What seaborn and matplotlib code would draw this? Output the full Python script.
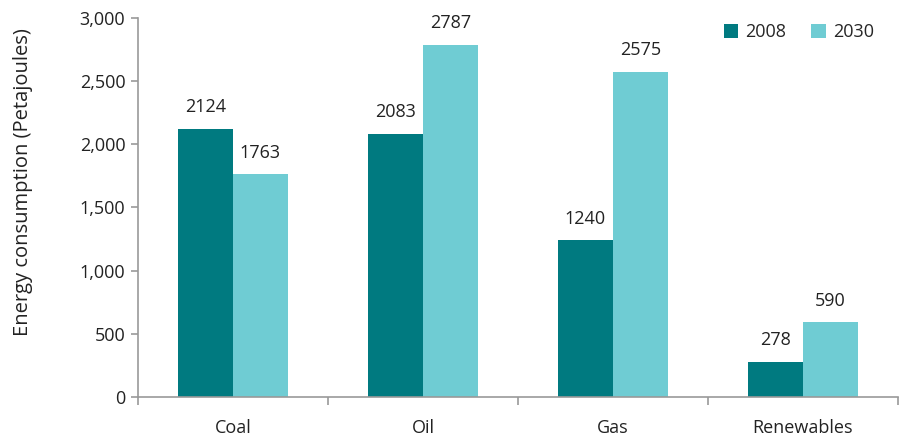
import matplotlib
matplotlib.use("Agg")
import matplotlib.pyplot as plt
import seaborn as sns
import pandas as pd
from matplotlib.ticker import FuncFormatter, FixedLocator

categories = ["Coal", "Oil", "Gas", "Renewables"]
years = ["2008", "2030"]
values_2008 = [2124, 2083, 1240, 278]
values_2030 = [1763, 2787, 2575, 590]

df = pd.DataFrame({
    "Fuel": categories * 2,
    "Year": [years[0]] * 4 + [years[1]] * 4,
    "Value": values_2008 + values_2030,
})

sns.set_theme(style="white")
plt.rcParams["font.family"] = ["Open Sans", "DejaVu Sans"]

fig = plt.figure(figsize=(9.07, 4.4), dpi=100)
ax = fig.add_axes([0.152, 0.098, 0.838, 0.861])

palette = {"2008": "#007A80", "2030": "#6FCCD3"}
sns.barplot(data=df, x="Fuel", y="Value", hue="Year", order=categories,
            hue_order=years, palette=palette, width=0.58, saturation=1,
            ax=ax, edgecolor="none", linewidth=0)

for cont in ax.containers:
    ax.bar_label(cont, padding=9, fontsize=13, color="#222222")

ax.set_xlim(-0.5, 3.5)
ax.set_ylim(0, 3000)
ax.set_yticks(range(0, 3001, 500))
ax.yaxis.set_major_formatter(FuncFormatter(lambda v, p: f"{int(v):,}"))
ax.set_xlabel("")
ax.set_ylabel("Energy consumption (Petajoules)", fontsize=14.5, color="#222222")
ax.yaxis.set_label_coords(-0.138, 0.567)

for s in ["top", "right"]:
    ax.spines[s].set_visible(False)
for s in ["left", "bottom"]:
    ax.spines[s].set_color("#999999")
    ax.spines[s].set_linewidth(1.2)

ax.tick_params(axis="y", which="major", left=True, length=5, width=1.2, color="#999999",
               labelsize=13, labelcolor="#222222", pad=4)
ax.tick_params(axis="x", which="major", bottom=False, labelsize=13, labelcolor="#222222", pad=10)
ax.xaxis.set_minor_locator(FixedLocator([-0.5, 0.5, 1.5, 2.5, 3.5]))
ax.tick_params(axis="x", which="minor", bottom=True, length=6, width=1.2, color="#999999", direction="out")

leg = ax.legend(loc="upper right", ncol=2, frameon=False, fontsize=13,
                handlelength=0.8, handleheight=0.8, columnspacing=1.4,
                handletextpad=0.4, bbox_to_anchor=(0.99, 1.03))

fig.savefig("out.png", dpi=100)
